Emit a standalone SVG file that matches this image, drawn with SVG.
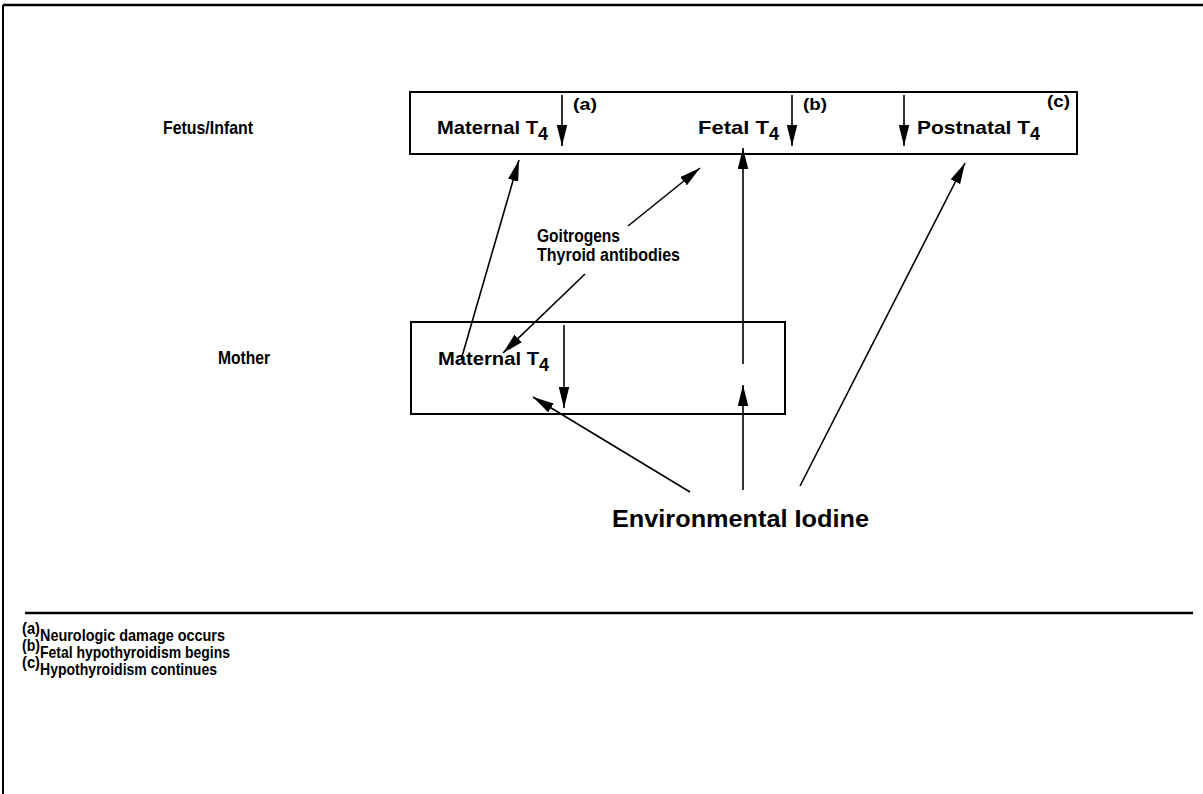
<svg xmlns="http://www.w3.org/2000/svg" width="1203" height="794" viewBox="0 0 1203 794">
<style>
text{font-family:"Liberation Sans",Arial,sans-serif;font-weight:bold;fill:#000}
.lbl{font-size:19px}
.sup{font-size:17px}
.sub{font-size:18px}
.box{fill:none;stroke:#000;stroke-width:2}
.con{fill:none;stroke:#000;stroke-width:1.6}
.foot{font-size:17px}
.fsup{font-size:16px}
</style>
<defs>
<marker id="ah" viewBox="0 0 20 10" refX="20" refY="5" markerWidth="21" markerHeight="11" markerUnits="userSpaceOnUse" orient="auto"><path d="M0,0 L20,5 L0,10 z" fill="#000"/></marker>
</defs>
<rect width="1203" height="794" fill="#fff"/>
<g id="frame">
<line x1="3" y1="5" x2="1203" y2="5" stroke="#000" stroke-width="2.5"/>
<line x1="3" y1="5" x2="3" y2="794" stroke="#000" stroke-width="2"/>
<line x1="25" y1="613" x2="1193" y2="613" stroke="#000" stroke-width="2.5"/>
</g>
<g id="label-fetus"><text class="lbl" x="163" y="134" textLength="90" lengthAdjust="spacingAndGlyphs">Fetus/Infant</text></g>
<g id="label-mother"><text class="lbl" x="218" y="364" textLength="52" lengthAdjust="spacingAndGlyphs">Mother</text></g>
<g id="fetus-box">
<rect class="box" x="410" y="92" width="667" height="62"/>
<text class="lbl" x="437" y="134"><tspan textLength="101" lengthAdjust="spacingAndGlyphs">Maternal T</tspan><tspan class="sub" dy="6" textLength="10" lengthAdjust="spacingAndGlyphs">4</tspan></text>
<line class="con" x1="562" y1="95" x2="562" y2="146" marker-end="url(#ah)"/>
<text class="sup" x="573" y="110" textLength="24" lengthAdjust="spacingAndGlyphs">(a)</text>
<text class="lbl" x="698" y="134"><tspan textLength="71" lengthAdjust="spacingAndGlyphs">Fetal T</tspan><tspan class="sub" dy="6" textLength="10" lengthAdjust="spacingAndGlyphs">4</tspan></text>
<line class="con" x1="792" y1="95" x2="792" y2="146" marker-end="url(#ah)"/>
<text class="sup" x="803" y="110" textLength="24" lengthAdjust="spacingAndGlyphs">(b)</text>
<line class="con" x1="904" y1="95" x2="904" y2="146" marker-end="url(#ah)"/>
<text class="lbl" x="917" y="134"><tspan textLength="113" lengthAdjust="spacingAndGlyphs">Postnatal T</tspan><tspan class="sub" dy="6" textLength="10" lengthAdjust="spacingAndGlyphs">4</tspan></text>
<text class="sup" x="1047" y="107" textLength="23" lengthAdjust="spacingAndGlyphs">(c)</text>
</g>
<g id="mother-box">
<rect class="box" x="411" y="322" width="374" height="92"/>
<text class="lbl" x="438" y="365"><tspan textLength="101" lengthAdjust="spacingAndGlyphs">Maternal T</tspan><tspan class="sub" dy="6" textLength="10" lengthAdjust="spacingAndGlyphs">4</tspan></text>
<line class="con" x1="564" y1="325" x2="564" y2="408" marker-end="url(#ah)"/>
</g>
<g id="label-goitrogens">
<text class="lbl" x="537" y="242" textLength="83" lengthAdjust="spacingAndGlyphs">Goitrogens</text>
<text class="lbl" x="537" y="261" textLength="143" lengthAdjust="spacingAndGlyphs">Thyroid antibodies</text>
</g>
<g id="label-iodine"><text x="612" y="527" font-size="23" textLength="257" lengthAdjust="spacingAndGlyphs">Environmental Iodine</text></g>
<g id="connectors">
<line class="con" x1="461" y1="360" x2="519" y2="160" marker-end="url(#ah)"/>
<line class="con" x1="628" y1="226" x2="700" y2="168" marker-end="url(#ah)"/>
<line class="con" x1="585" y1="274" x2="503" y2="353" marker-end="url(#ah)"/>
<line class="con" x1="743" y1="364" x2="743" y2="148" marker-end="url(#ah)"/>
<line class="con" x1="743" y1="490" x2="743" y2="385" marker-end="url(#ah)"/>
<line class="con" x1="690" y1="492" x2="533" y2="397" marker-end="url(#ah)"/>
<line class="con" x1="800" y1="486" x2="965" y2="163" marker-end="url(#ah)"/>
</g>
<g id="footnotes">
<text class="foot" x="22" y="641"><tspan class="fsup" dy="-7" textLength="18" lengthAdjust="spacingAndGlyphs">(a)</tspan><tspan dy="7" textLength="185" lengthAdjust="spacingAndGlyphs">Neurologic damage occurs</tspan></text>
<text class="foot" x="22" y="658"><tspan class="fsup" dy="-7" textLength="18" lengthAdjust="spacingAndGlyphs">(b)</tspan><tspan dy="7" textLength="190" lengthAdjust="spacingAndGlyphs">Fetal hypothyroidism begins</tspan></text>
<text class="foot" x="22" y="675"><tspan class="fsup" dy="-7" textLength="18" lengthAdjust="spacingAndGlyphs">(c)</tspan><tspan dy="7" textLength="177" lengthAdjust="spacingAndGlyphs">Hypothyroidism continues</tspan></text>
</g>
</svg>
